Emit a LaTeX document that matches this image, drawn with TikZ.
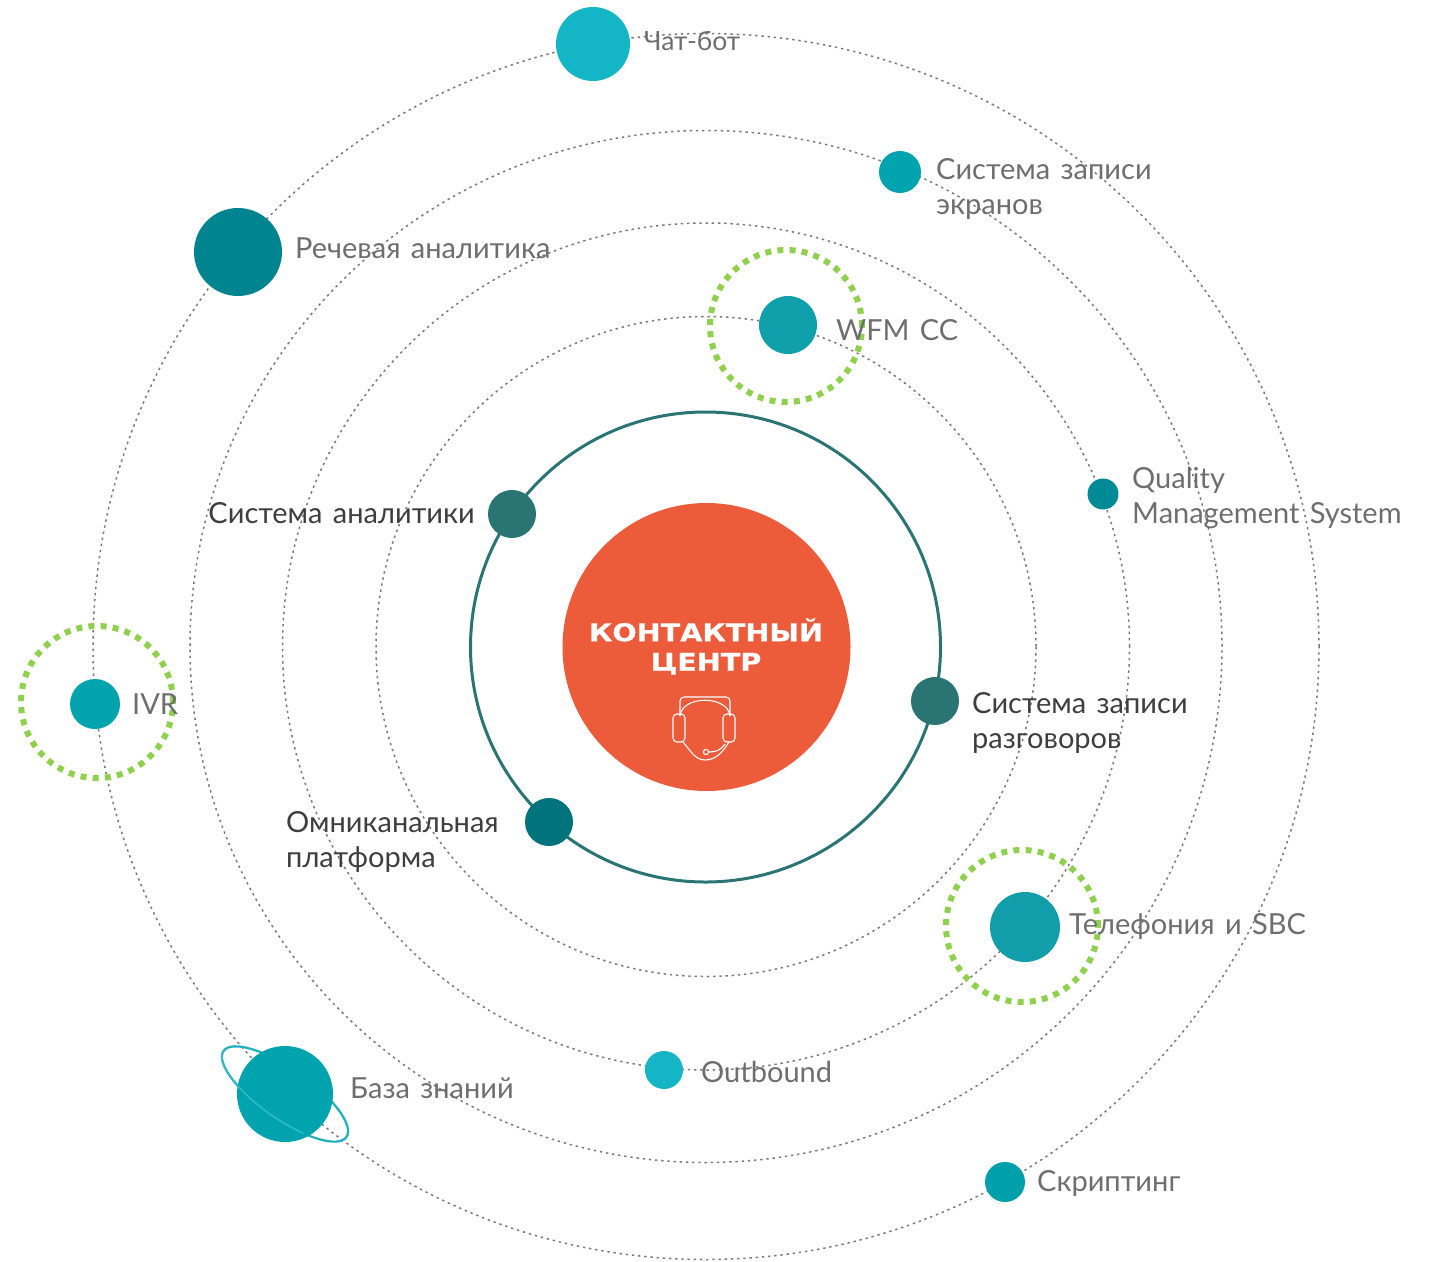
\documentclass[tikz,border=0pt]{standalone}
\usepackage{fontspec}
\setmainfont{Lato}[WordSpace=1.4]
\newfontfamily\headfont{DejaVu Sans Bold}[FakeStretch=1.17,FakeBold=0.6]
\usetikzlibrary{shapes.geometric}
\definecolor{ringteal}{HTML}{2A7474}
\definecolor{coral}{HTML}{EC5C3B}
\definecolor{lime}{HTML}{8FD14F}
\definecolor{txtgray}{HTML}{6E6E6E}
\definecolor{txtdark}{HTML}{3E3E3E}
\definecolor{orbitgray}{HTML}{7A7A7A}
\tikzset{
  orbit/.style={draw=orbitgray,line width=1.5pt,dash pattern=on 2.4pt off 3.8pt},
  planet/.style={circle,minimum size=#1,inner sep=0pt,outer sep=0pt},
  halo/.style={circle,draw=lime,line width=6pt,dash pattern=on 6pt off 6.2pt,minimum size=152pt,inner sep=0pt},
  lab/.style={font=\fontsize{29}{35}\selectfont,text=txtgray,inner sep=0pt,align=left},
  labdark/.style={lab,text=txtdark},
  icon/.style={draw=white,line width=1.1pt,rounded corners=4pt},
}
\begin{document}
\begin{tikzpicture}[x=1pt,y=-1pt]
\useasboundingbox (0,0) rectangle (1429,1261);
\coordinate (c) at (706,646.5);
% orbits
\node[orbit,circle,minimum size=660pt,inner sep=0pt] (o1) at (c) {};
\node[orbit,circle,minimum size=847pt,inner sep=0pt] (o2) at (c) {};
\node[orbit,circle,minimum size=1032pt,inner sep=0pt] (o3) at (c) {};
\node[orbit,circle,minimum size=1226pt,inner sep=0pt] (o4) at (c) {};
\node[circle,draw=ringteal,line width=3pt,minimum size=470pt,inner sep=0pt] (core) at (705.5,647) {};
% halos
\node[halo] (h1) at (786,326) {};
\node[halo] (h2) at (97,702) {};
\node[halo] (h3) at (1022,926) {};
% saturn ring back
\begin{scope}[shift={(285,1094)},rotate=-35]
\draw[color={rgb,255:red,30;green,175;blue,190},line width=2.2pt] (0,0) ++(75pt,0) arc[start angle=0,end angle=360,x radius=75pt,y radius=25pt];
\end{scope}
% planets
\node[planet=74pt,fill={rgb,255:red,20;green,181;blue,196}] (chat) at (593,44) {};
\node[planet=42pt,fill={rgb,255:red,0;green,163;blue,174}] (scr) at (900,172) {};
\node[planet=88pt,fill={rgb,255:red,0;green,132;blue,144}] (speech) at (238,252) {};
\node[planet=58pt,fill={rgb,255:red,16;green,160;blue,172}] (wfm) at (788,325) {};
\node[planet=31pt,fill={rgb,255:red,0;green,138;blue,150}] (qms) at (1103,494) {};
\node[planet=48pt,fill=ringteal] (an) at (512,514) {};
\node[planet=48pt,fill=ringteal] (rec) at (935,701) {};
\node[planet=48pt,fill={rgb,255:red,0;green,115;blue,124}] (omni) at (549,822) {};
\node[planet=50pt,fill={rgb,255:red,0;green,163;blue,174}] (ivr) at (95,704) {};
\node[planet=70pt,fill={rgb,255:red,17;green,158;blue,170}] (tel) at (1025,927) {};
\node[planet=96pt,fill={rgb,255:red,0;green,163;blue,174}] (kb) at (285,1094) {};
\node[planet=38pt,fill={rgb,255:red,20;green,181;blue,196}] (out) at (664,1070) {};
\node[planet=40pt,fill={rgb,255:red,0;green,160;blue,170}] (scripting) at (1005,1182) {};
% saturn ring front
\begin{scope}[shift={(285,1094)},rotate=-35]
\draw[color={rgb,255:red,50;green,185;blue,198},line width=1.6pt] (-75pt,0) arc[start angle=180,end angle=300,x radius=75pt,y radius=25pt];
\end{scope}
% centre
\node[planet=288pt,fill=coral] (sun) at (706.5,647) {};
\node[font=\headfont\fontsize{24.5}{29.5}\selectfont,text=white,align=center,inner sep=0pt] (title) at (706,646.5) {КОНТАКТНЫЙ\\ЦЕНТР};
% headset
\draw[icon] (680,716) -- (680,697) -- (730,697) -- (730,716);
\draw[draw=white,line width=1.1pt] (680,716) .. controls (682,695) and (728,695) .. (730,716);
\draw[icon] (673,714) rectangle (685,742);
\draw[icon] (723,714) rectangle (735,742);
\draw[draw=white,line width=1.1pt] (683,742) .. controls (690,750) and (695,760) .. (705,760) .. controls (717,760) and (724,750) .. (729,742);
\draw[draw=white,line width=1.1pt] (706,752) circle (2.6pt);
\draw[draw=white,line width=1.1pt] (709,752) .. controls (716,752) and (721,750) .. (725,744);
% labels
\node[lab,anchor=base west,font=\fontsize{26.5}{35}\selectfont] (lchat) at (644,50) {Чат-бот};
\node[lab,anchor=west] (lscr) at (936,189) {Система записи\\экранов};
\node[lab,anchor=base west] (lspeech) at (295,258) {Речевая аналитика};
\node[lab,anchor=base west] (lwfm) at (836,340) {WFM CC};
\node[lab,anchor=west] (lqms) at (1132,498) {Quality\\Management System};
\node[labdark,anchor=base east] (lan) at (475,523) {Система аналитики};
\node[labdark,anchor=west] (lrec) at (972,723) {Система записи\\разговоров};
\node[labdark,anchor=west] (lomni) at (286,842) {Омниканальная\\платформа};
\node[lab,anchor=base west] (livr) at (132,714) {IVR};
\node[lab,anchor=base west] (ltel) at (1069,934) {Телефония и SBC};
\node[lab,anchor=base west] (lkb) at (350,1098) {База знаний};
\node[lab,anchor=base west] (lout) at (701,1082) {Outbound};
\node[lab,anchor=base west] (lscripting) at (1037,1191) {Скриптинг};
\end{tikzpicture}
\end{document}
